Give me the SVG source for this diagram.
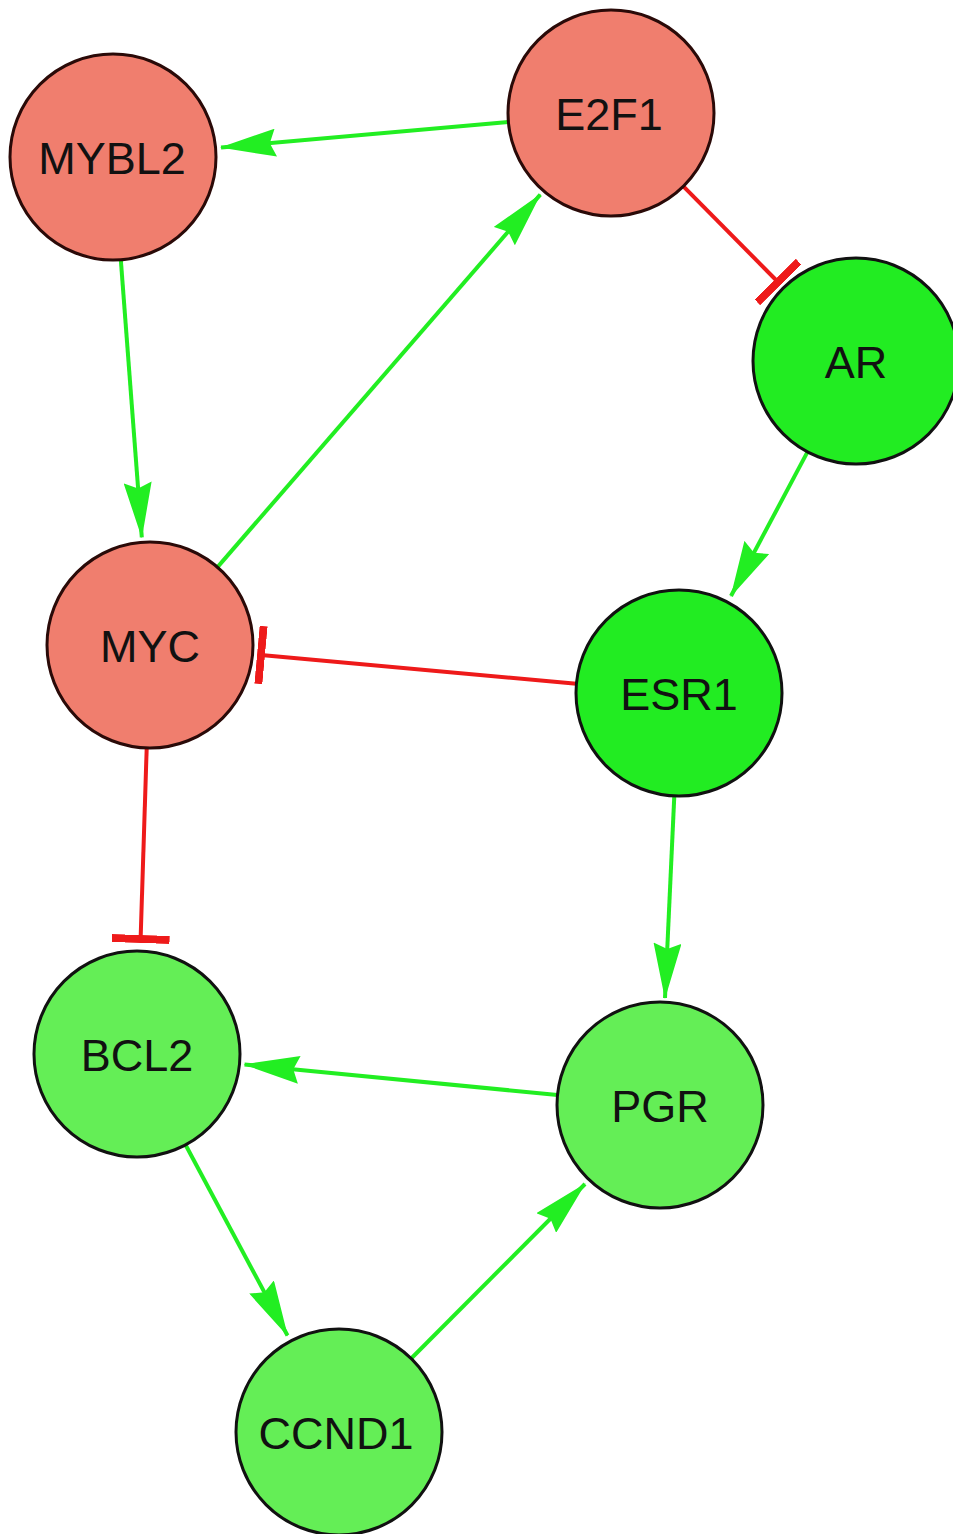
<svg xmlns="http://www.w3.org/2000/svg" width="953" height="1534" viewBox="0 0 953 1534">
<defs>
<style>
.node circle{stroke-width:3}
.red circle{fill:#F07E6E;stroke:#2a0a08}
.g1 circle{fill:#22EC22;stroke:#111}
.g2 circle{fill:#64EE56;stroke:#111}
.node text{font-family:"Liberation Sans",Arial,sans-serif;font-size:45px;fill:#111;text-anchor:middle}
.act{stroke:#22EE22;stroke-width:4;fill:none;marker-end:url(#arrow)}
.inh{stroke:#EE1A1A;stroke-width:4;fill:none;marker-end:url(#tbar)}
</style>
<marker id="arrow" viewBox="0 0 56 28" refX="55" refY="14" markerWidth="56" markerHeight="28" markerUnits="userSpaceOnUse" orient="auto">
<path d="M0,0 L56,14 L0,28 L6,14 z" fill="#22EE22"/>
</marker>
<marker id="tbar" viewBox="0 0 8 58" refX="4" refY="29" markerWidth="8" markerHeight="58" markerUnits="userSpaceOnUse" orient="auto">
<rect x="0" y="0" width="8" height="58" fill="#EE1A1A"/>
</marker>
</defs>
<rect width="953" height="1534" fill="#fff"/>
<g id="edges">
<line class="act" x1="508.4" y1="122" x2="221" y2="147.5"/>
<line class="act" x1="120.8" y1="259.7" x2="141.8" y2="537.3"/>
<line class="act" x1="217.5" y1="567.1" x2="540.3" y2="194.6"/>
<line class="inh" x1="683.4" y1="186.3" x2="778" y2="282"/>
<line class="act" x1="807.5" y1="451.9" x2="731" y2="596"/>
<line class="inh" x1="576.4" y1="683.7" x2="261" y2="655"/>
<line class="inh" x1="146.7" y1="748" x2="140.6" y2="939"/>
<line class="act" x1="674.3" y1="795.9" x2="665" y2="998"/>
<line class="act" x1="557.5" y1="1095" x2="244.5" y2="1064.5"/>
<line class="act" x1="185.5" y1="1144.8" x2="287.5" y2="1335.5"/>
<line class="act" x1="411.2" y1="1358.5" x2="585" y2="1184"/>
</g>
<g id="MYBL2" class="node red"><circle cx="113" cy="157" r="103"/><text x="112" y="174">MYBL2</text></g>
<g id="E2F1" class="node red"><circle cx="611" cy="113" r="103"/><text x="609" y="130">E2F1</text></g>
<g id="AR" class="node g1"><circle cx="856" cy="361" r="103"/><text x="856" y="378">AR</text></g>
<g id="MYC" class="node red"><circle cx="150" cy="645" r="103"/><text x="150" y="662">MYC</text></g>
<g id="ESR1" class="node g1"><circle cx="679" cy="693" r="103"/><text x="679" y="710">ESR1</text></g>
<g id="BCL2" class="node g2"><circle cx="137" cy="1054" r="103"/><text x="137" y="1071">BCL2</text></g>
<g id="PGR" class="node g2"><circle cx="660" cy="1105" r="103"/><text x="660" y="1122">PGR</text></g>
<g id="CCND1" class="node g2"><circle cx="339" cy="1432" r="103"/><text x="336" y="1449">CCND1</text></g>
</svg>
